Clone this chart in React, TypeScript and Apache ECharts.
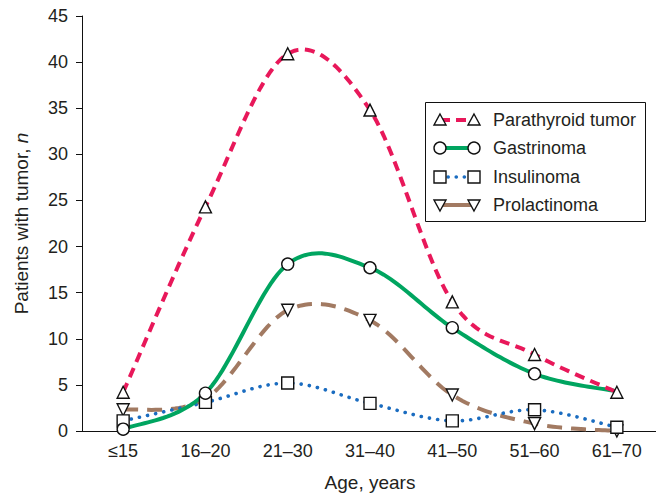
import React, { useEffect, useRef } from "react";
import * as echarts from "echarts";

const categories = ["≤15", "16–20", "21–30", "31–40", "41–50", "51–60", "61–70"];
const parathyroid = [4.2, 24.3, 40.9, 34.8, 14.0, 8.3, 4.2];
const gastrinoma = [0.2, 4.1, 18.1, 17.7, 11.2, 6.2, 4.3];
const insulinoma = [1.1, 3.1, 5.2, 3.0, 1.1, 2.3, 0.4];
const prolactinoma = [2.3, 3.5, 13.1, 12.0, 3.9, 0.8, 0.0];
const yTicks = [0, 5, 10, 15, 20, 25, 30, 35, 40, 45];

const FONT = "'Liberation Sans', Arial, Helvetica, sans-serif";
const TEXT = "#231f20";
const RED = "#e8185a";
const GREEN = "#00a560";
const BLUE = "#1a6cc0";
const BROWN = "#a27a62";

const markerStyle = { color: "#ffffff", borderColor: "#111111", borderWidth: 1.4, opacity: 1 };

// Catmull-Rom sampling in pixel space through library-computed points
function catmull(pts: number[][], steps = 24): number[][] {
  const out: number[][] = [];
  const n = pts.length;
  for (let i = 0; i < n - 1; i++) {
    const p0 = pts[Math.max(i - 1, 0)];
    const p1 = pts[i];
    const p2 = pts[i + 1];
    const p3 = pts[Math.min(i + 2, n - 1)];
    const m1 = [(p2[0] - p0[0]) / 2, (p2[1] - p0[1]) / 2];
    const m2 = [(p3[0] - p1[0]) / 2, (p3[1] - p1[1]) / 2];
    for (let s = 0; s < steps; s++) {
      const t = s / steps;
      const t2 = t * t;
      const t3 = t2 * t;
      const h00 = 2 * t3 - 3 * t2 + 1;
      const h10 = t3 - 2 * t2 + t;
      const h01 = -2 * t3 + 3 * t2;
      const h11 = t3 - t2;
      out.push([
        h00 * p1[0] + h10 * m1[0] + h01 * p2[0] + h11 * m2[0],
        h00 * p1[1] + h10 * m1[1] + h01 * p2[1] + h11 * m2[1],
      ]);
    }
  }
  out.push(pts[n - 1]);
  return out;
}

function curveSeries(name: string, arr: number[], style: any, z: number) {
  return {
    type: "custom",
    name: name + " curve",
    data: arr.map((v, i) => [i, v]),
    encode: { x: 0, y: 1 },
    z,
    silent: true,
    renderItem: (params: any, api: any) => {
      if (params.dataIndex !== 0) return null;
      const pts = arr.map((v, i) => api.coord([i, v]));
      return {
        type: "polyline",
        shape: { points: catmull(pts) },
        style: { fill: null, ...style },
      };
    },
  };
}

function markerSeries(name: string, arr: number[], symbol: string, rotate: number, z: number, hideIdx: number[] = []) {
  return {
    type: "scatter",
    name,
    data: arr.map((v, i) => (hideIdx.includes(i) ? { value: [i, v], symbol: "none" } : [i, v])),
    symbol,
    symbolRotate: rotate,
    symbolSize: 12,
    itemStyle: markerStyle,
    emphasis: { disabled: true },
    z,
  };
}

function legendRow(y: number, name: string, kind: string, line: any) {
  const xs = [440, 474];
  const children: any[] = [
    { type: "line", shape: { x1: xs[0], y1: y, x2: xs[1], y2: y }, style: line },
  ];
  xs.forEach((cx) => {
    const st = { fill: "#fff", stroke: "#111", lineWidth: 1.4 };
    if (kind === "up") {
      children.push({ type: "polygon", shape: { points: [[cx, y - 6], [cx + 6, y + 5], [cx - 6, y + 5]] }, style: st });
    } else if (kind === "down") {
      children.push({ type: "polygon", shape: { points: [[cx, y + 6], [cx + 6, y - 5], [cx - 6, y - 5]] }, style: st });
    } else if (kind === "circle") {
      children.push({ type: "circle", shape: { cx, cy: y, r: 6 }, style: st });
    } else {
      children.push({ type: "rect", shape: { x: cx - 6, y: y - 6, width: 12, height: 12 }, style: st });
    }
  });
  children.push({
    type: "text",
    x: 493,
    y,
    style: { text: name, fill: TEXT, fontSize: 18, fontFamily: FONT, verticalAlign: "middle", align: "left" },
  });
  return children;
}

export default function App() {
  const ref = useRef<HTMLDivElement>(null);
  useEffect(() => {
    if (!ref.current) return;
    const chart = echarts.init(ref.current, null, { renderer: "svg" });
    chart.setOption({
      animation: false,
      backgroundColor: "#ffffff",
      textStyle: { fontFamily: FONT },
      grid: { left: 82, top: 16, width: 576, height: 415, containLabel: false, outerBoundsMode: "none" } as any,
      xAxis: {
        type: "category",
        data: categories,
        boundaryGap: true,
        axisLine: { lineStyle: { color: "#111", width: 1 } },
        axisTick: { length: 9, lineStyle: { color: "#111" } },
        axisLabel: { color: TEXT, fontSize: 18, margin: 11, fontFamily: FONT },
        name: "Age, years",
        nameLocation: "middle",
        nameGap: 42,
        nameTextStyle: { color: TEXT, fontSize: 19, fontFamily: FONT },
      },
      yAxis: {
        type: "value",
        min: 0,
        max: 45,
        interval: 5,
        splitLine: { show: false },
        axisLine: { show: true, lineStyle: { color: "#111", width: 1 } },
        axisTick: { show: true, length: 6, lineStyle: { color: "#111" } },
        axisLabel: {
          color: TEXT,
          fontSize: 18,
          margin: 14,
          fontFamily: FONT,
          formatter: (v: number) => (yTicks.includes(v) ? String(v) : ""),
        },
        name: "Patients with tumor, {i|n}",
        nameLocation: "middle",
        nameGap: 51,
        nameTextStyle: {
          color: TEXT,
          fontSize: 19,
          fontFamily: FONT,
          rich: { i: { fontStyle: "italic", fontSize: 19, color: TEXT, fontFamily: FONT } },
        },
      },
      series: [
        curveSeries("Prolactinoma", prolactinoma, { stroke: BROWN, lineWidth: 4, lineDash: [15, 9] }, 2),
        curveSeries("Insulinoma", insulinoma, { stroke: BLUE, lineWidth: 3.6, lineDash: [0.1, 8.2], lineCap: "round" }, 2),
        curveSeries("Gastrinoma", gastrinoma, { stroke: GREEN, lineWidth: 4 }, 2),
        curveSeries("Parathyroid tumor", parathyroid, { stroke: RED, lineWidth: 4, lineDash: [10, 6.5] }, 2),
        markerSeries("Prolactinoma", prolactinoma, "triangle", 180, 3, [1]),
        markerSeries("Insulinoma", insulinoma, "rect", 0, 4),
        markerSeries("Gastrinoma", gastrinoma, "circle", 0, 5, [6]),
        markerSeries("Parathyroid tumor", parathyroid, "triangle", 0, 6),
      ],
      graphic: [
        {
          type: "group",
          z: 20,
          children: [
            {
              type: "rect",
              shape: { x: 425.5, y: 102.5, width: 220, height: 119 },
              style: { fill: "#fff", stroke: "#111", lineWidth: 1 },
            },
            ...legendRow(120, "Parathyroid tumor", "up", { stroke: RED, lineWidth: 4, lineDash: [10, 6] }),
            ...legendRow(148, "Gastrinoma", "circle", { stroke: GREEN, lineWidth: 4 }),
            ...legendRow(177, "Insulinoma", "rect", { stroke: BLUE, lineWidth: 3.6, lineDash: [0.1, 8], lineCap: "round" }),
            ...legendRow(205, "Prolactinoma", "down", { stroke: BROWN, lineWidth: 4 }),
          ],
        },
      ],
    });
    return () => chart.dispose();
  }, []);
  return <div ref={ref} style={{ position: "fixed", left: 0, top: 0, width: 656, height: 494 }} />;
}
